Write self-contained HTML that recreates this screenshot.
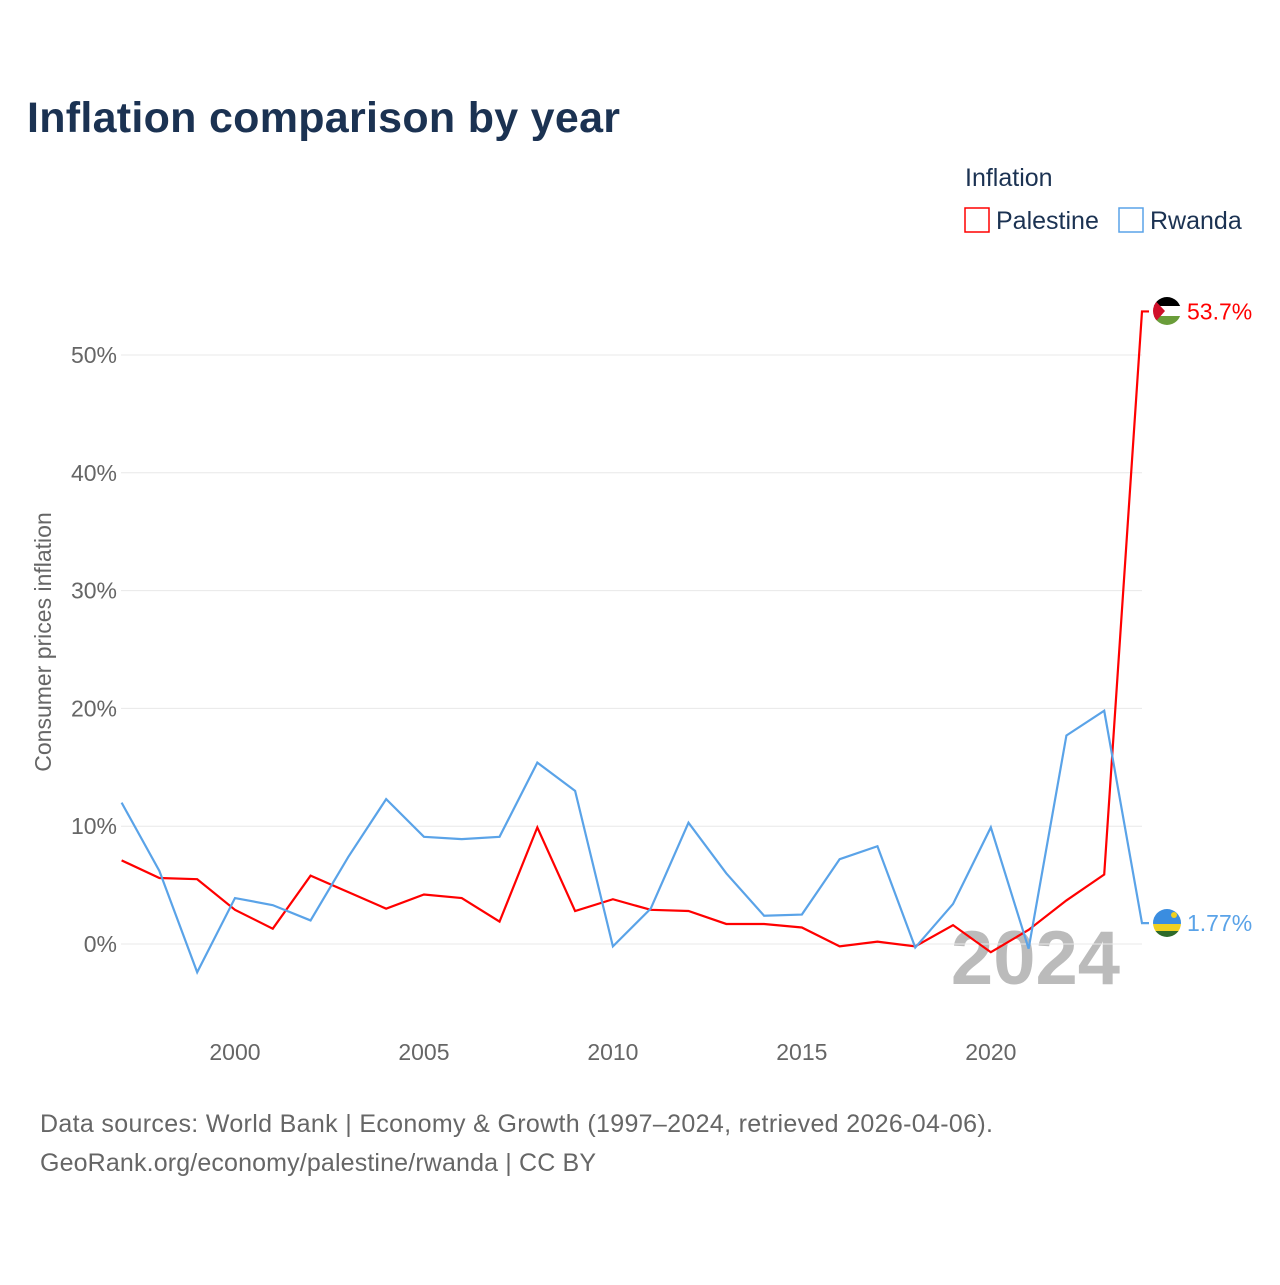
<!DOCTYPE html>
<html><head><meta charset="utf-8"><style>
body{margin:0;background:#fff;font-family:"Liberation Sans",sans-serif}
#w{position:relative;width:1280px;height:1280px}
</style></head><body>
<div id="w">
<svg id="s" width="1280" height="1280">
<defs>
<clipPath id="cp1"><circle cx="1167" cy="311" r="14"/></clipPath>
<clipPath id="cp2"><circle cx="1167" cy="923" r="14"/></clipPath>
</defs>
<text x="27" y="132" font-size="43" font-weight="bold" fill="#1b3252" textLength="593">Inflation comparison by year</text>
<text x="965" y="186" font-size="25" fill="#1b3252">Inflation</text>
<g><rect x="965" y="208" width="24" height="24" fill="none" stroke="#f00" stroke-width="1.5"/><text x="996" y="229" font-size="25" fill="#1b3252">Palestine</text></g>
<g><rect x="1119" y="208" width="24" height="24" fill="none" stroke="#5aa3e8" stroke-width="1.5"/><text x="1150" y="229" font-size="25" fill="#1b3252">Rwanda</text></g>
<text transform="translate(51,642) rotate(-90)" text-anchor="middle" font-size="23" fill="#666">Consumer prices inflation</text>
<text x="1120" y="984" text-anchor="end" font-size="76" font-weight="bold" fill="#bbb">2024</text>
<g id="grid"></g><g id="lines"></g>
<g clip-path="url(#cp1)">
<rect x="1150" y="295" width="34" height="11" fill="#000"/><rect x="1150" y="306" width="34" height="10" fill="#fff"/><rect x="1150" y="316" width="34" height="12" fill="#6a9d3a"/>
<polygon points="1150,295 1165,311 1150,328" fill="#d0102a"/></g>
<g clip-path="url(#cp2)">
<rect x="1150" y="907" width="34" height="17" fill="#3a8de0"/><rect x="1150" y="924" width="34" height="7" fill="#f0d020"/><rect x="1150" y="931" width="34" height="10" fill="#2e6a2a"/>
<circle cx="1174" cy="915" r="3" fill="#f0d020"/></g>
<text x="40" y="1132" font-size="25" fill="#666" textLength="953">Data sources: World Bank | Economy &amp; Growth (1997–2024, retrieved 2026-04-06).</text>
<text x="40" y="1171" font-size="25" fill="#666" textLength="556">GeoRank.org/economy/palestine/rwanda | CC BY</text>
</svg></div>
<script>
const years=[1997,1998,1999,2000,2001,2002,2003,2004,2005,2006,2007,2008,2009,2010,2011,2012,2013,2014,2015,2016,2017,2018,2019,2020,2021,2022,2023,2024];
const palestine=[7.1,5.6,5.5,2.9,1.3,5.8,4.4,3.0,4.2,3.9,1.9,9.9,2.8,3.8,2.9,2.8,1.7,1.7,1.4,-0.2,0.2,-0.2,1.6,-0.7,1.2,3.7,5.9,53.7];
const rwanda=[12.0,6.2,-2.4,3.9,3.3,2.0,7.4,12.3,9.1,8.9,9.1,15.4,13.0,-0.2,3.0,10.3,6.0,2.4,2.5,7.2,8.3,-0.3,3.4,9.9,-0.4,17.7,19.8,1.77];
const yTicks=[0,10,20,30,40,50];
const xTicks=[2000,2005,2010,2015,2020];
const NS="http://www.w3.org/2000/svg";
const X=y=>121.6+(y-1997)*(1142-121.6)/27;
const Y=v=>944-v*11.78;
function mk(t,a,p){const e=document.createElementNS(NS,t);for(const k in a)e.setAttribute(k,a[k]);p.appendChild(e);return e;}
const g=document.getElementById('grid'),L=document.getElementById('lines');
yTicks.forEach(v=>{
 const l=mk('line',{x1:121,x2:1142,y1:Y(v),y2:Y(v),stroke:'#e8e8e8'},g);
 
 
 const t=mk('text',{x:117,y:Y(v)+8,'text-anchor':'end','font-size':23,fill:'#666'},g);t.textContent=v+'%';
 
 
});
xTicks.forEach(v=>{
 const t=mk('text',{x:X(v),y:1060,'text-anchor':'middle','font-size':23,fill:'#666'},g);t.textContent=v;
 
 
});
function series(d,c,name,lab){
 const pts=d.map((v,i)=>X(years[i])+','+Y(v));
 const last=d[d.length-1];
 pts.push((X(2024)+7)+','+Y(last));
 const p=mk('polyline',{points:pts.join(' '),fill:'none',stroke:c,'stroke-width':2.2},L);
 
 
 const cy=Y(last);
 const t=mk('text',{x:1187,y:cy+8,'font-size':23,fill:c},L);t.textContent=lab;
 
 
}
series(palestine,'#f00','palestine','53.7%');
series(rwanda,'#5aa3e8','rwanda','1.77%');
</script>
</body></html>
